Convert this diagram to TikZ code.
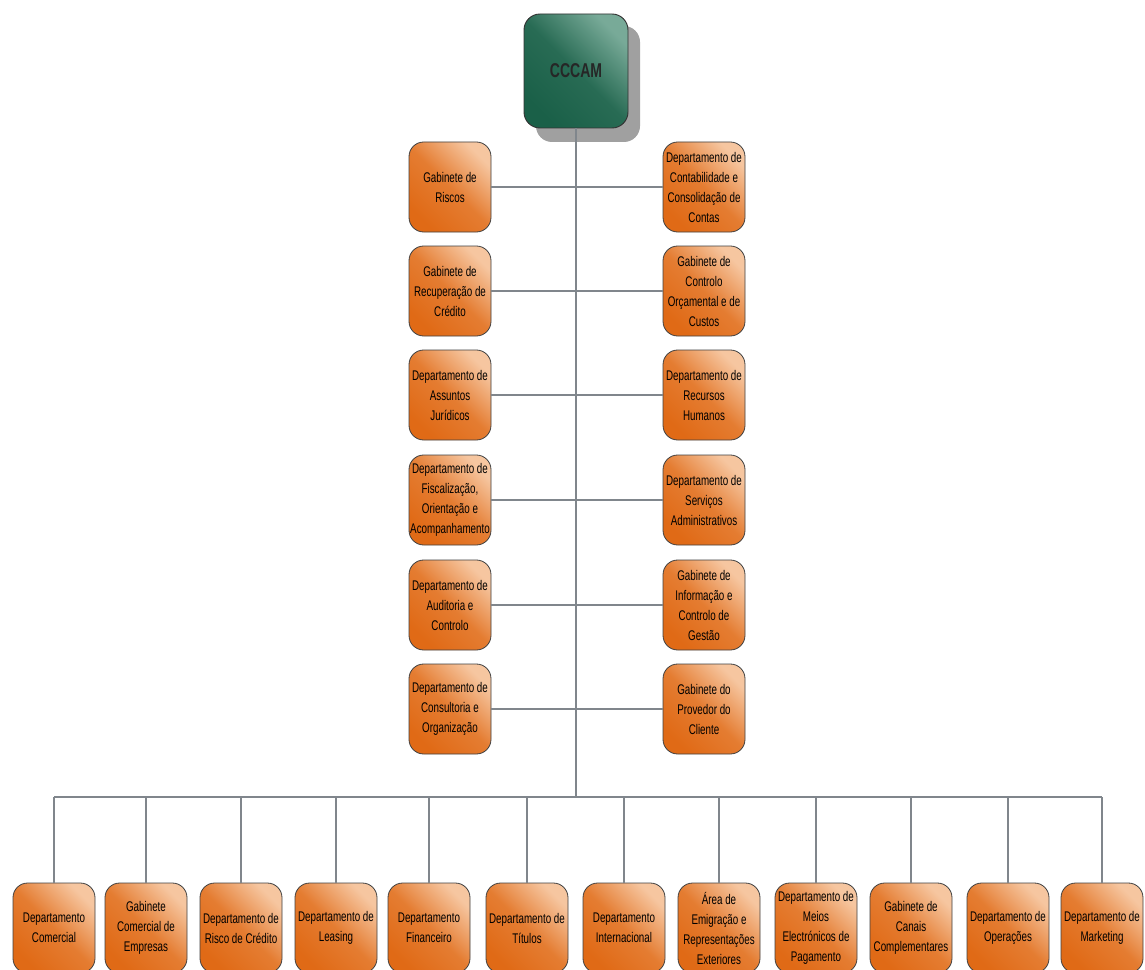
\documentclass[tikz,border=0pt]{standalone}
\usepackage{fontspec}
\setmainfont{Liberation Sans}[FakeStretch=0.7]
\definecolor{oDark}{RGB}{224,106,22}
\definecolor{oLight}{RGB}{246,198,160}
\definecolor{gDark}{RGB}{26,96,72}
\definecolor{gLight}{RGB}{120,170,152}
\definecolor{lineg}{RGB}{128,134,140}
\definecolor{shadowg}{RGB}{160,160,160}
\tikzset{
  obox/.style={rectangle, rounded corners=11pt, draw=black!75, line width=0.6pt,
    top color=oLight, bottom color=oDark, middle color=oDark!80!oLight, shading angle=-45,
    minimum width=61.5pt, minimum height=67.5pt, inner sep=0pt,
    align=center, font=\fontsize{10.5}{15}\selectfont, text=black},
  gbox/.style={rectangle, rounded corners=12pt, draw=black!80, line width=0.7pt,
    top color=gLight, bottom color=gDark, middle color=gDark!85!gLight, shading angle=-45,
    minimum width=78pt, minimum height=85.5pt, inner sep=0pt,
    font=\fontsize{15}{15}\bfseries\selectfont, text=black!85},
  conn/.style={draw=lineg, line width=1.4pt},
}
\begin{document}
\begin{tikzpicture}[x=0.75pt, y=-0.75pt]
\path[use as bounding box] (0,0) rectangle (1145,970);
\clip (0,0) rectangle (1145,970);
\fill[white] (0,0) rectangle (1145,970);
% shadow of top box
\fill[shadowg, rounded corners=12pt] (536,26) rectangle (640,142);
\node[gbox] (top) at (576,71) {CCCAM};
% side boxes
\node[obox] (l1) at (450,187) {Gabinete de\\Riscos};
\node[obox] (l2) at (450,291) {Gabinete de\\Recuperação de\\Crédito};
\node[obox] (l3) at (450,395) {Departamento de\\Assuntos\\Jurídicos};
\node[obox] (l4) at (450,500) {Departamento de\\Fiscalização,\\Orientação e\\Acompanhamento};
\node[obox] (l5) at (450,605) {Departamento de\\Auditoria e\\Controlo};
\node[obox] (l6) at (450,709) {Departamento de\\Consultoria e\\Organização};
\node[obox] (r1) at (704,187) {Departamento de\\Contabilidade e\\Consolidação de\\Contas};
\node[obox] (r2) at (704,291) {Gabinete de\\Controlo\\Orçamental e de\\Custos};
\node[obox] (r3) at (704,395) {Departamento de\\Recursos\\Humanos};
\node[obox] (r4) at (704,500) {Departamento de\\Serviços\\Administrativos};
\node[obox] (r5) at (704,605) {Gabinete de\\Informação e\\Controlo de\\Gestão};
\node[obox] (r6) at (704,709) {Gabinete do\\Provedor do\\Cliente};
% bottom boxes
\node[obox] (b1) at (54,928) {Departamento\\Comercial};
\node[obox] (b2) at (146,928) {Gabinete\\Comercial de\\Empresas};
\node[obox] (b3) at (241,928) {Departamento de\\Risco de Crédito};
\node[obox] (b4) at (336,928) {Departamento de\\Leasing};
\node[obox] (b5) at (429,928) {Departamento\\Financeiro};
\node[obox] (b6) at (527,928) {Departamento de\\Títulos};
\node[obox] (b7) at (624,928) {Departamento\\Internacional};
\node[obox] (b8) at (719,928) {Área de\\Emigração e\\Representações\\Exteriores};
\node[obox] (b9) at (816,928) {Departamento de\\Meios\\Electrónicos de\\Pagamento};
\node[obox] (b10) at (911,928) {Gabinete de\\Canais\\Complementares};
\node[obox] (b11) at (1008,928) {Departamento de\\Operações};
\node[obox] (b12) at (1102,928) {Departamento de\\Marketing};
\coordinate (hub) at (576,797);
% connectors
\path[conn] (top.south) -- (hub);
\foreach \i in {1,...,6} {\path[conn] (l\i.east) -- (r\i.west);}
\path[conn] (b1.north |- hub) -- (b12.north |- hub);
\foreach \i in {1,...,12} {\path[conn] (b\i.north |- hub) -- (b\i.north);}
\end{tikzpicture}
\end{document}
